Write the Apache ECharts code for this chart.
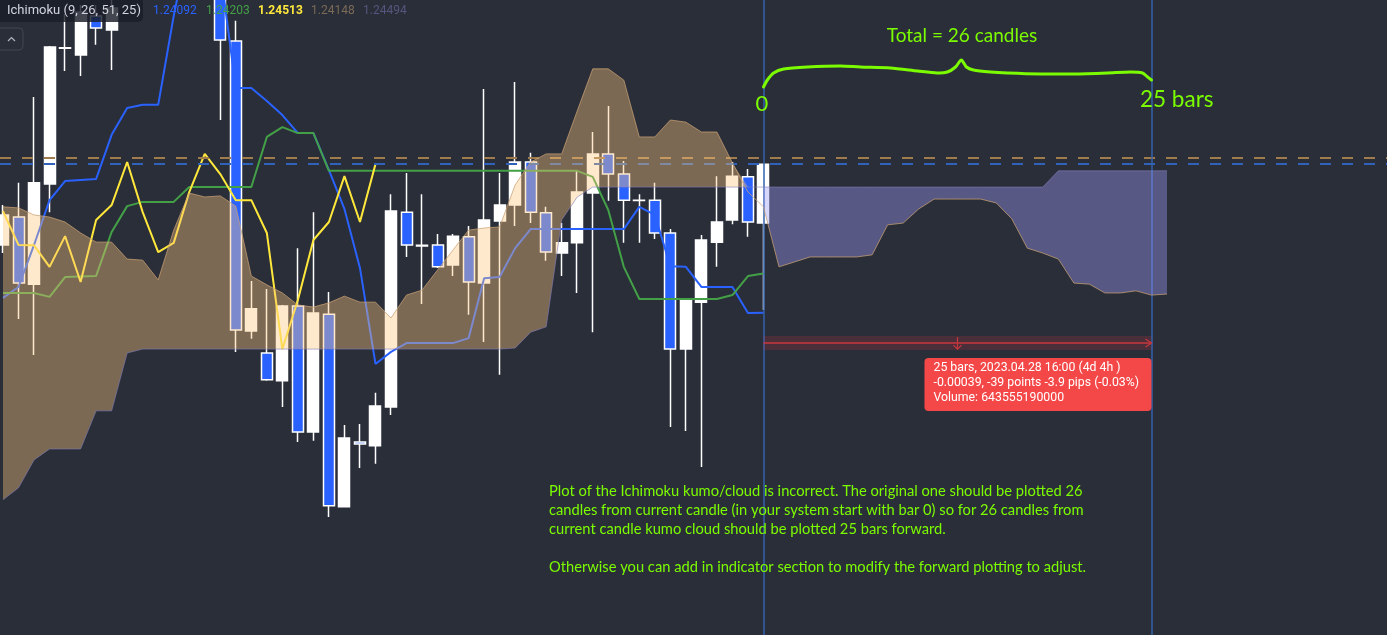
<!DOCTYPE html>
<html><head><meta charset="utf-8">
<script src="https://cdn.jsdelivr.net/npm/echarts/dist/echarts.min.js"></script>
<style>html,body{margin:0;padding:0;background:#2a2e39;overflow:hidden}#c{width:1387px;height:635px}</style>
</head><body><div id="c"></div>
<script>
// bar offsets relative to the current candle (0 = current)
const categories = [-49,-48,-47,-46,-45,-44,-43,-42,-41,-40,-39,-38,-37,-36,-35,-34,-33,-32,-31,-30,
 -29,-28,-27,-26,-25,-24,-23,-22,-21,-20,-19,-18,-17,-16,-15,-14,-13,-12,-11,-10,
 -9,-8,-7,-6,-5,-4,-3,-2,-1,0,1,2,3,4,5,6,7,8,9,10,11,12,13,14,15,16,17,18,19,20,
 21,22,23,24,25,26,27,28,29,30,31,32,33,34,35,36,37,38,39,40];

const opens = [1.24284,1.24363,1.24173,1.24457,1.24843,1.24822,1.24933,1.24893,'-','-','-','-','-','-',
 1.25063,1.24862,1.24040,1.23978,1.23899,1.24111,1.23754,1.24088,1.23542,1.23726,1.23715,1.23825,
 1.24377,1.24281,1.24284,1.24227,1.24307,1.24176,1.24352,1.24397,1.24519,1.24375,1.24261,1.24290,
 1.24431,1.24542,1.24485,1.24410,1.24411,1.24318,1.23989,1.24122,1.24292,1.24355,1.24477,1.24346];
const closes = [1.24369,1.24176,1.24460,1.24845,1.24841,1.24944,1.24899,1.24955,'-','-','-','-','-','-',
 1.24865,1.24043,1.24103,1.23902,1.24111,1.23754,1.24091,1.23545,1.23737,1.23720,1.23828,1.24380,
 1.24284,1.24283,1.24222,1.24309,1.24179,1.24355,1.24397,1.24519,1.24377,1.24264,1.24290,1.24434,
 1.24542,1.24485,1.24411,1.24411,1.24318,1.23989,1.24128,1.24298,1.24349,1.24479,1.24349,1.24513];
const highs = [1.24397,1.24460,1.24703,1.24848,1.24938,1.24964,1.24964,1.24990,'-','-','-','-','-','-',
 1.25091,1.24919,1.24182,1.24159,1.24114,1.24275,1.24377,1.24151,1.23774,1.23777,1.23865,1.24428,
 1.24488,1.24428,1.24315,1.24315,1.24338,1.24726,1.24488,1.24746,1.24545,1.24392,1.24346,1.24494,
 1.24604,1.24678,1.24522,1.24428,1.24460,1.24329,1.24128,1.24312,1.24479,1.24519,1.24499,1.24513];
const lows = [1.24261,1.24074,1.23972,1.24377,1.24777,1.24763,1.24851,1.24780,'-','-','-','-','-','-',
 1.24638,1.23981,1.24018,1.23899,1.23825,1.23726,1.23729,1.23513,1.23542,1.23652,1.23664,1.23802,
 1.24250,1.24117,1.24219,1.24196,1.24086,1.24009,1.23916,1.24338,1.24346,1.24239,1.24196,1.24148,
 1.24037,1.24409,1.24290,1.24290,1.24301,1.23768,1.23757,1.23655,1.24222,1.24343,1.24307,1.24100];

// Ichimoku (9, 26, 51, 25)
const tenkan = [1.24134,1.24165,1.24284,1.24411,1.24465,1.24468,1.24471,1.24596,1.24672,1.24681,1.24681,
 1.24933,1.25148,1.25148,1.25063,1.24729,1.24729,1.24692,1.24652,1.24601,1.24601,
 1.24496,1.24386,1.24219,1.23947,1.23981,1.24006,1.24006,1.24006,1.24006,1.24020,
 1.24190,1.24193,1.24275,1.24329,1.24329,1.24329,1.24329,1.24329,1.24329,1.24329,
 1.24392,1.24369,1.24224,1.24222,1.24165,1.24165,1.24165,1.24091,1.24092];
const kijun = [1.24148,1.24148,1.24148,1.24137,1.24193,1.24195,1.24196,1.24321,1.24394,1.24406,1.24406,1.24406,
 1.24448,1.24448,1.24448,1.24448,1.24448,1.24590,1.24618,1.24601,1.24601,
 1.24494,1.24494,1.24494,1.24494,1.24494,1.24494,1.24494,1.24494,1.24494,1.24494,1.24494,1.24494,1.24494,1.24494,1.24494,1.24494,1.24494,
 1.24477,1.24383,1.24222,1.24131,1.24131,1.24131,1.24131,1.24131,1.24131,1.24142,1.24196,1.24203];
const chikou = [1.24380,1.24284,1.24283,1.24222,1.24309,1.24179,1.24355,1.24397,1.24519,1.24377,1.24264,1.24290,
 1.24434,1.24542,1.24485,1.24411,1.24411,1.24318,1.23989,1.24128,1.24298,1.24349,1.24479,1.24349,1.24513];
const spanA = [1.24392,1.24389,1.24369,1.24363,1.24349,1.24318,1.24292,1.24292,1.24244,1.24241,1.24185,1.24326,
 1.24431,1.24420,1.24423,1.24394,1.24196,1.24171,1.24148,1.24114,1.24108,1.24120,1.24139,1.24122,1.24122,
 1.24077,1.24142,1.24156,1.24213,1.24270,1.24326,1.24332,1.24335,1.24454,1.24519,1.24542,1.24542,1.24664,
 1.24783,1.24783,1.24751,1.24590,1.24590,1.24638,1.24632,1.24604,1.24604,1.24516,1.24434,1.24392,
 1.24222,1.24236,1.24250,1.24250,1.24250,1.24250,1.24256,1.24341,1.24346,1.24386,1.24414,1.24414,1.24414,
 1.24414,1.24403,1.24358,1.24275,1.24261,1.24244,1.24176,1.24173,1.24148,1.24148,1.24154,1.24142,1.24145];
const spanB = [1.23562,1.23596,1.23675,1.23706,1.23706,1.23706,1.23814,1.23814,1.23978,
 1.23989,1.23989,1.23989,1.23989,1.23989,1.23989,1.23989,1.23989,1.23989,1.23989,1.23989,1.23989,
 1.23989,1.23989,1.23989,1.23989,1.23989,1.23989,1.23989,1.23989,1.23989,1.23989,1.23989,1.23989,
 1.23992,1.24037,1.24052,1.24355,1.24420,
 1.24448,1.24448,1.24448,1.24448,1.24448,1.24448,1.24448,1.24448,1.24448,1.24448,
 1.24448,1.24448,1.24448,1.24448,1.24448,1.24448,1.24448,1.24448,1.24448,1.24448,
 1.24448,1.24448,1.24448,1.24448,1.24448,1.24448,1.24448,1.24448,1.24448,1.24448,
 1.24494,1.24494,1.24494,1.24494,1.24494,1.24494,1.24494,1.24494];
const askLevel = 1.24530;
const bidLevel = 1.24513;
const currentBar = 49, targetBar = 74;
const measureLevel = 1.24006;
const legendValues = ['1.24092','1.24203','1.24513','1.24148','1.24494'];

const candleData = opens.map((o, i) => o === '-' ? ['-','-','-','-'] : [o, closes[i], lows[i], highs[i]]);
const lastBrown = 48, firstPurple = 49;
const brownBase = spanB.map((b, i) => i <= lastBrown ? b : '-');
const brownBand = spanB.map((b, i) => i <= lastBrown ? Math.max(spanA[i] - b, 0) : '-');
const purpleBase = spanA.map((a, i) => i >= firstPurple ? a : '-');
const purpleBand = spanA.map((a, i) => i >= firstPurple ? Math.max(spanB[i] - a, 0) : '-');
const blanks = categories.map(() => '-');

const chart = echarts.init(document.getElementById('c'));
chart.setOption({
  backgroundColor: '#2a2e39',
  animation: false,
  grid: { left: 3, top: 0, width: 1381.28, height: 635, outerBoundsMode: 'none' },
  xAxis: { type: 'category', data: categories, boundaryGap: false, show: false },
  yAxis: { type: 'value', min: 1.23179, max: 1.24978, show: false, splitLine: { show: false } },
  series: [
    { type: 'candlestick', z: 2, barWidth: 11.5, data: candleData, clip: false,
      itemStyle: { color: '#ffffff', color0: '#2962ff', borderColor: '#ffffff', borderColor0: '#ffffff', borderWidth: 1.5 } },
    { type: 'line', z: 3, data: tenkan, symbol: 'none', lineStyle: { color: '#2962ff', width: 2 }, clip: false },
    { type: 'line', z: 3, data: kijun, symbol: 'none', lineStyle: { color: '#43a047', width: 2 }, clip: false,
      markLine: { silent: true, symbol: 'none', label: { show: false },
        data: [
          [{ coord: [0, askLevel], x: 0 }, { coord: [categories.length - 1, askLevel], x: 1387, lineStyle: { color: '#a07c4c', width: 2, type: [11, 11] } }],
          [{ coord: [0, bidLevel], x: 0 }, { coord: [categories.length - 1, bidLevel], x: 1387, lineStyle: { color: '#2f62b8', width: 2, type: [11, 11] } }]
        ] } },
    { type: 'line', z: 3, data: chikou, symbol: 'none', lineStyle: { color: '#ffe83b', width: 2 }, clip: false },
    { type: 'line', z: 5, stack: 'brown', data: brownBase, symbol: 'none', lineStyle: { opacity: 0, width: 0 } },
    { type: 'line', z: 5, stack: 'brown', data: brownBand, symbol: 'none', lineStyle: { opacity: 0, width: 0 },
      areaStyle: { color: 'rgba(255,199,125,0.39)', opacity: 1 } },
    { type: 'line', z: 5, stack: 'purple', data: purpleBase, symbol: 'none', lineStyle: { opacity: 0, width: 0 } },
    { type: 'line', z: 5, stack: 'purple', data: purpleBand, symbol: 'none', lineStyle: { opacity: 0, width: 0 },
      areaStyle: { color: 'rgba(156,156,245,0.4)', opacity: 1 } },
    { type: 'line', z: 6, data: spanA, symbol: 'none', lineStyle: { color: 'rgba(200,160,115,0.75)', width: 1 } },
    { type: 'line', z: 6, data: spanB, symbol: 'none', lineStyle: { color: 'rgba(130,125,185,0.6)', width: 1 } },
    { type: 'line', z: 8, data: blanks, symbol: 'none',
      markLine: { silent: true, symbol: 'none', label: { show: false },
        lineStyle: { color: '#3462ad', width: 1.5, type: 'solid' },
        data: [ { xAxis: currentBar }, { xAxis: targetBar } ] } }
  ]
});

function txt(x, y, text, font, fill, align) {
  return { type: 'text', x: x, y: y, z: 100, silent: true,
    style: { text: text, font: font, fill: fill, textAlign: align || 'left', align: align || 'left',
      textVerticalAlign: 'middle', verticalAlign: 'middle' } };
}
const p0 = chart.convertToPixel({ xAxisIndex: 0, yAxisIndex: 0 }, [currentBar, measureLevel]);
const p1 = chart.convertToPixel({ xAxisIndex: 0, yAxisIndex: 0 }, [targetBar, measureLevel]);
const x0 = p0[0], x1 = p1[0], ym = p0[1];
const xm = (x0 + x1) / 2;
const bracePts = [[0,87],[0.010,80],[0.026,73],[0.052,69],[0.113,67],[0.198,66],[0.25,67],[0.327,68],[0.397,71],
  [0.448,73],[0.474,72],[0.495,67],[0.510,60],[0.523,67],[0.541,70],[0.585,72],[0.629,73],[0.714,74],[0.799,74],
  [0.887,73],[0.946,72],[0.977,73],[0.990,77],[1,80]].map(p => [x0 + p[0] * (x1 - x0), p[1]]);
const green = '#7cfc00';
const gfont = '14.7px Lato, "Noto Sans", sans-serif';
const rfont = '12.3px Roboto, sans-serif';
const graphics = [
  // legend box
  { type: 'rect', z: 90, silent: true, shape: { x: -4, y: -4, width: 147, height: 26, r: 5 }, style: { fill: 'rgba(26,29,39,0.82)' } },
  txt(7, 11, 'Ichimoku (9, 26, 51, 25)', '13px Roboto, sans-serif', '#d1d4dc'),
  txt(153, 11, legendValues[0], '12px Roboto, sans-serif', '#2962ff'),
  txt(206, 11, legendValues[1], '12px Roboto, sans-serif', '#43a047'),
  txt(258, 11, legendValues[2], 'bold 12px Roboto, sans-serif', '#ffe83b'),
  txt(311, 11, legendValues[3], '12px Roboto, sans-serif', '#7a6a56'),
  txt(363, 11, legendValues[4], '12px Roboto, sans-serif', '#56567e'),
  { type: 'rect', z: 90, silent: true, shape: { x: -3, y: 28, width: 26, height: 22, r: 4 }, style: { fill: '#2a2e39', stroke: '#434651', lineWidth: 1 } },
  { type: 'polyline', z: 91, silent: true, shape: { points: [[8, 41], [11.5, 37.5], [15, 41]] }, style: { stroke: '#b2b5be', lineWidth: 1.2, fill: null } },
  // measure tool
  { type: 'rect', z: 50, silent: true, shape: { x: x0, y: ym - 7, width: x1 - x0, height: 14 }, style: { fill: 'rgba(242,54,69,0.16)' } },
  { type: 'line', z: 51, silent: true, shape: { x1: x0, y1: ym, x2: x1, y2: ym }, style: { stroke: '#c8373e', lineWidth: 1.5 } },
  { type: 'polyline', z: 51, silent: true, shape: { points: [[x1 - 6, ym - 4], [x1, ym], [x1 - 6, ym + 4]] }, style: { stroke: '#c8373e', lineWidth: 1.2, fill: null } },
  { type: 'line', z: 51, silent: true, shape: { x1: xm, y1: ym - 6, x2: xm, y2: ym + 6 }, style: { stroke: '#c8373e', lineWidth: 1.2 } },
  { type: 'polyline', z: 51, silent: true, shape: { points: [[xm - 4, ym + 2], [xm, ym + 6], [xm + 4, ym + 2]] }, style: { stroke: '#c8373e', lineWidth: 1.2, fill: null } },
  { type: 'rect', z: 52, silent: true, shape: { x: x1 - 227, y: ym + 15, width: 227, height: 53, r: 4 }, style: { fill: '#f44848' } },
  txt(x1 - 218, ym + 25, '25 bars, 2023.04.28 16:00 (4d 4h )', rfont, '#ffffff'),
  txt(x1 - 218, ym + 40, '-0.00039, -39 points -3.9 pips (-0.03%)', rfont, '#ffffff'),
  txt(x1 - 218, ym + 55, 'Volume: 643555190000', rfont, '#ffffff'),
  // hand-drawn annotations
  { type: 'polyline', z: 60, silent: true, shape: { points: bracePts, smooth: 0.25 }, style: { stroke: green, lineWidth: 3, fill: null, lineCap: 'round', lineJoin: 'round' } },
  txt(962, 36, 'Total = 26 candles', '19px Lato, "Noto Sans", sans-serif', green, 'center'),
  txt(762, 104, '0', '22px Lato, "Noto Sans", sans-serif', green, 'center'),
  txt(1140, 100, '25 bars', '22.5px Lato, "Noto Sans", sans-serif', green),
  txt(549, 491, 'Plot of the Ichimoku kumo/cloud is incorrect. The original one should be plotted 26', gfont, green),
  txt(549, 510, 'candles from current candle (in your system start with bar 0) so for 26 candles from', gfont, green),
  txt(549, 529, 'current candle kumo cloud should be plotted 25 bars forward.', gfont, green),
  txt(549, 567, 'Otherwise you can add in indicator section to modify the forward plotting to adjust.', gfont, green)
];
chart.setOption({ graphic: graphics });
</script></body></html>
